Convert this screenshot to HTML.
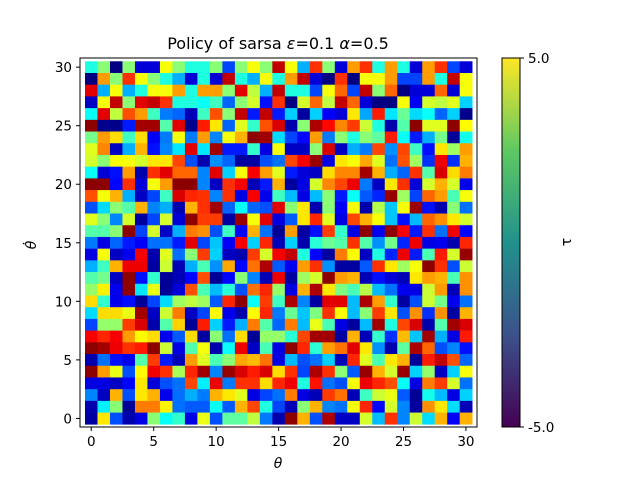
<!DOCTYPE html>
<html><head><meta charset="utf-8"><style>
body{margin:0;background:#fff}
svg text{font-family:"DejaVu Sans","Liberation Sans",sans-serif;fill:#000}
</style></head><body>
<svg width="640" height="480" xmlns="http://www.w3.org/2000/svg">
<defs><linearGradient id="vir" x1="0" y1="1" x2="0" y2="0">
<stop offset="0" stop-color="#440154"/><stop offset="0.25" stop-color="#3b528b"/><stop offset="0.5" stop-color="#21918c"/><stop offset="0.75" stop-color="#5ec962"/><stop offset="1" stop-color="#fde725"/></linearGradient></defs>
<text x="278" y="49" font-size="16" text-anchor="middle">Policy of sarsa <tspan font-style="italic">ε</tspan>=0.1 <tspan font-style="italic">α</tspan>=0.5</text>
<g id="cells"></g>
<rect x="80" y="58" width="397" height="369" fill="none" stroke="#000" stroke-width="1"/>
<g id="ticks"></g>
<text x="278" y="468" font-size="14" text-anchor="middle" font-style="italic">θ</text>
<text transform="translate(36,245) rotate(-90)" font-size="14" text-anchor="middle" font-style="italic">θ̇</text>
<rect x="502" y="58" width="18" height="369" fill="url(#vir)" stroke="#000" stroke-width="1"/>
<line x1="520" y1="58" x2="524" y2="58" stroke="#000"/>
<line x1="520" y1="427" x2="524" y2="427" stroke="#000"/>
<text x="528" y="63" font-size="13.5">5.0</text>
<text x="528" y="432" font-size="13.5">-5.0</text>
<text transform="translate(571,242) rotate(-90)" font-size="14" text-anchor="middle">τ</text>
</svg>
<script>
// rows from theta_dot = 30 (top) down to 0; values are jet-scale codes 0..10
const rows = [
[4,5,0,5,1,1,6,5,4,4,5,2,5,6,5,9,6,3,8,5,1,7,8,4,7,4,1,7,8,2,1],
[0,7,5,8,6,5,4,3,1,4,1,9,4,3,6,4,7,9,1,0,8,0,6,6,7,2,2,7,4,9,6],
[8.7,3,6,3,4,6,6,7,4,7,7,5,8.7,5.5,3,9,4,4,2,6,7.5,2,9,5,7.5,0,1,1,7.5,1,6],
[0.8,6,9,5,8.7,9,8,4,4,3.8,4.3,2.3,5,5.7,1.5,8,0,5.7,7.5,5.5,9,7.5,1,0,0,6,1.3,5.7,5.5,5.8,3.3],
[3.8,8.7,5.5,7.7,7,4.3,2.5,2.3,0.7,4.3,7.7,5,9,1.6,9,1.6,3.3,0.5,3.3,1.3,1,6.3,2.9,8.2,3.5,4.7,3.4,3.8,2.3,3.3,0.3],
[9.5,0.3,0.3,1.6,9.3,9.3,4.5,8.7,0.3,8.2,6.3,2.3,5.8,4.2,7.7,8.8,0.6,5,9.2,8.4,7.2,7.9,5.6,4,0.6,4.5,9.5,5.8,5.8,9.5,6.1],
[4.8,7,6.4,4.3,6.4,1.3,2.5,6,2.5,7,2.6,6,6.8,9.5,9.3,3.4,2,1.4,7,2.5,5,4,5,4.6,8.2,3.8,1.6,3,4.8,0.4,3.9],
[5.8,7.2,0.8,3,6.8,1.5,2.6,3.5,8.7,3.5,9.3,1.6,1.6,4.2,1.1,6,0.8,0.8,5,8.8,0.8,3,2.5,7.8,2.7,7.8,4.3,1.5,6.3,5.2,7],
[5.7,5,6,6,5.7,6.3,6.3,7.8,2.1,0.6,2.7,2.3,0.5,0.5,2.1,2.4,7.8,8.5,9.4,1.1,6.3,6,6.9,5.8,2.4,7.7,5.2,1.8,8.6,1.8,6.8],
[3.8,1,1.5,7,0.6,8,8.7,7.5,7.5,2.6,8.7,3.3,6,8.5,7,5.8,1.6,1,0.8,6.4,7.2,7.2,9.3,6.8,3,2.3,8,4.5,8.8,6.4,7.3],
[9.5,9.5,1.4,8,1,6,7,9.5,9.5,2.6,0.8,8,8.5,0.7,1.6,6.8,0.5,1.1,5.7,7.2,7.8,8.6,2.5,0.8,6.3,8,1,5.7,6.8,5.7,1.2],
[7.7,6,6.8,3,0.8,2,4.3,8.8,8.1,8,2.6,8,1.1,8.5,1.2,4.3,3.1,1.1,3.1,5,1.6,3.8,2.2,1.7,9.4,5.2,2,7.5,7,4.4,6],
[2.1,3.4,5,4.5,6.8,2.6,3,0.6,6.8,8,9.3,2.3,3.8,2.3,2.1,8.7,5,6.3,0.6,5,1.3,6,0.6,5.4,3.2,6,9.4,1.5,0.6,5,2.4],
[5.8,5,2.6,5.7,0.5,2,5.7,1,9.5,7.9,7.9,0.5,9.4,6,8.7,1.1,2.2,6.3,8.1,5.8,1.1,7.8,6.8,6,3.2,1.5,3.1,7.5,7.1,6.3,5.7],
[4.5,4.5,5,9.5,2,5.7,0.8,3,7.3,7.1,2.1,4.3,1.4,6.8,2.4,0.4,7,0.5,1.5,7.9,4.2,1.1,9.5,1.2,9.5,8.5,1.6,8,2.4,8.6,1.4],
[2.5,1.1,2.3,1.6,1.3,2.4,2.4,1.6,8.7,2,3.2,1.3,8.5,3.3,8.1,0.7,3.3,0.6,4.1,4.7,4.5,8,4.5,2.7,4.8,1.7,8.6,1.1,1.2,0.6,8.1],
[1.1,6,0.8,1.2,8.5,0.6,5.8,2.4,5,7.9,3.3,0.8,0.6,7.9,5.7,8.5,9,4,1.4,0.5,7.3,6.1,0.8,4,1.7,8.6,1.6,4.4,8.2,5.7,9.4],
[3,4.3,6.8,8.6,8.6,0.5,5.6,0.7,3,4.4,2.7,6.9,1.4,7.4,9.2,2.2,1.2,7,8,2.7,0.5,0.5,2.2,8,6.3,5.2,6,9.5,8,2.1,5.6],
[4.5,4.8,0.8,9.5,1.5,4.2,0.4,0.7,1.4,7.7,0.4,1.4,5,2.6,0.7,8.6,0.5,5.2,5.7,9.5,7,6.8,0.7,1.5,1,0.7,6.3,7,6.8,4.4,7.1],
[5.1,6.2,1.2,9.5,3.5,5.9,0.4,1,7.7,4.4,3.1,4.1,2.1,7.4,8.1,5.1,1.1,6.8,9.2,6.3,4.9,4.4,5.4,3.1,2.4,1.2,1.1,5.6,7,0.7,7.1],
[6.4,4.2,1.2,1.5,0.4,2,3.4,5.2,5.5,5.2,2.2,8.1,9.5,3.8,7.9,4.3,9.2,2.6,0.5,8.7,8.7,3.1,9.2,7,4.2,0.5,2.1,5.6,4.8,1.2,2.4],
[3.4,6.4,6.4,5.9,9.3,0.8,5.6,7.3,0.8,2,6.1,1.2,0.6,6.1,8.1,2.5,4.7,3.2,4.9,8,6.1,3.1,5,7.9,6.3,2.1,7.1,1.8,7.1,0.5,6.8],
[2,5.1,5.1,7.9,8.8,0.6,4.5,6.5,0.4,8.2,3.3,1.6,3,7.3,4.5,2.3,7.3,3.1,5.9,4.4,1.1,0.5,3.1,9.3,4,7.8,8.8,0.6,4.5,9.3,8.8],
[8.5,8.1,8.5,7,6.1,6.4,1.2,2.2,6.4,0.5,5,2.4,6.4,0.4,5.1,5.1,4.1,7.8,9.3,9.3,0.5,6.8,0.7,4.2,1.8,6.7,3.2,9.3,3,1.1,8.2],
[9.5,9.3,8.6,8,8.2,9.5,5.6,1.1,4.5,6,0.6,3.8,8.6,0.8,4.4,1.1,9.5,8.1,4.1,7,7.4,8.7,6.3,2.7,0.6,4.6,9.2,7.5,2.1,2.6,1.5],
[0.6,2.4,1.5,1.2,4.5,7.9,1.6,0.7,7,5.8,4.4,5,6.9,6.7,7.4,1.1,3.1,2.1,2.4,3.3,0.7,8.1,5.8,4.4,6.3,6.8,0.4,8.2,9,7.7,2.3],
[9.5,7,5.9,2.1,6.1,8.6,8,5.3,8.1,9.3,2.6,9.4,8.8,8.2,8.8,6.4,8,2,9.2,8,5,2.2,9.4,6.8,5.7,9.4,3.3,5.1,0.8,3.3,6],
[1.1,1.1,0.8,1.4,6.3,1,2.1,2.4,7.8,3.6,8.6,2.5,8,8,6.4,8.1,8.6,4,8.3,2.4,2.1,6,8.6,8.1,7.7,3.8,1.1,7.3,7.9,5.7,2.4],
[2.6,0.8,6.8,2.1,6.3,6.8,1.2,2.4,3,2.5,6.8,6.3,5.8,1.1,2,2.4,7.3,1.1,0.7,7.9,7.4,0.7,4.3,5.6,5.9,2.2,0.4,3.9,3.1,1.1,3.3],
[0.6,3.6,5,0.4,7.3,7.3,6.2,2.4,2.2,2.2,3.8,2.2,6.8,7.8,4,2,0.7,5,6.8,2.6,2.4,6,8.1,1.4,5.7,2.6,0.5,7.1,6.3,3.4,0.7],
[0.5,6.3,2.1,0.6,1.1,5,3.8,4.2,1.1,5.9,2.1,4.6,4.6,5.5,2.5,0.6,9.5,6.8,2.1,9.2,0.8,0.8,5.7,3.1,8,2.6,5.6,3.4,6.8,1.3,6.8]
];
const xTicks = [0,5,10,15,20,25,30];
const yTicks = [0,5,10,15,20,25,30];
const NS='http://www.w3.org/2000/svg';
const X0=85, CW=12.49, YB=424.3, CH=11.71;
function xs(v){return X0+(v+0.5)*CW;}
function ys(v){return YB-(v+0.5)*CH;}
function cl(x){return Math.max(0,Math.min(1,x));}
function jet(code){
  const t=cl(code*0.106-0.02);
  const r=cl(1.5-Math.abs(4*t-3)), g=cl(1.5-Math.abs(4*t-2)), b=cl(1.5-Math.abs(4*t-1));
  return 'rgb('+Math.round(r*255)+','+Math.round(g*255)+','+Math.round(b*255)+')';
}
const cells=document.getElementById('cells');
const n=rows.length;
rows.forEach((row,i)=>{
  const yv=n-1-i;
  row.forEach((val,c)=>{
    const r=document.createElementNS(NS,'rect');
    r.setAttribute('x',(xs(c)-CW/2).toFixed(2));
    r.setAttribute('y',(ys(yv)-CH/2).toFixed(2));
    r.setAttribute('width',(CW+0.3).toFixed(2));
    r.setAttribute('height',(CH+0.3).toFixed(2));
    r.setAttribute('fill',jet(val));
    
    
    cells.appendChild(r);
  });
});
const tg=document.getElementById('ticks');
xTicks.forEach(v=>{
  const l=document.createElementNS(NS,'line');
  l.setAttribute('x1',xs(v));l.setAttribute('x2',xs(v));l.setAttribute('y1',427);l.setAttribute('y2',431);l.setAttribute('stroke','#000');
  
  
  tg.appendChild(l);
  const t=document.createElementNS(NS,'text');
  t.setAttribute('x',xs(v));t.setAttribute('y',446);t.setAttribute('font-size','13.5');t.setAttribute('text-anchor','middle');
  t.textContent=v;
  
  
  tg.appendChild(t);
});
yTicks.forEach(v=>{
  const l=document.createElementNS(NS,'line');
  l.setAttribute('x1',76);l.setAttribute('x2',80);l.setAttribute('y1',ys(v));l.setAttribute('y2',ys(v));l.setAttribute('stroke','#000');
  
  
  tg.appendChild(l);
  const t=document.createElementNS(NS,'text');
  t.setAttribute('x',72);t.setAttribute('y',ys(v)+5);t.setAttribute('font-size','13.5');t.setAttribute('text-anchor','end');
  t.textContent=v;
  
  
  tg.appendChild(t);
});
</script>
</body></html>
